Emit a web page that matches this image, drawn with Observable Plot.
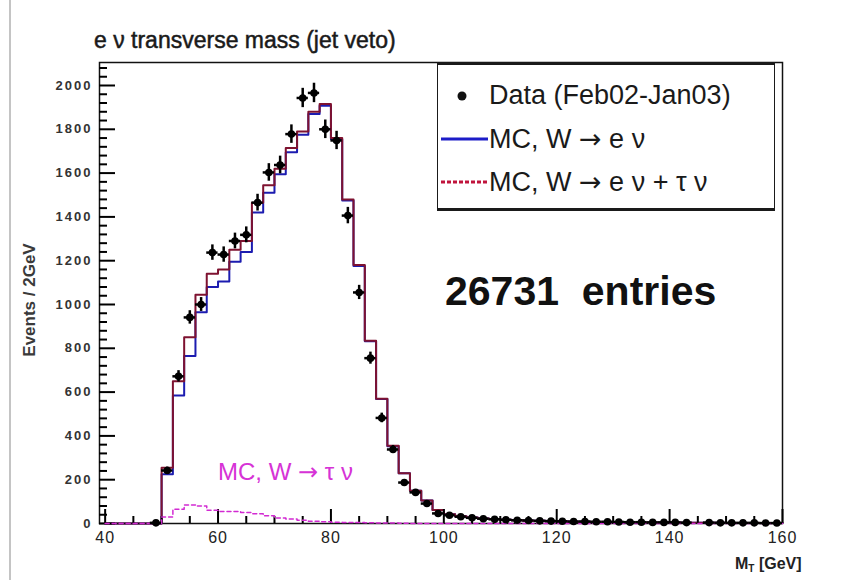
<!DOCTYPE html>
<html>
<head>
<meta charset="utf-8">
<script src="https://cdn.jsdelivr.net/npm/d3@7"></script>
<script src="https://cdn.jsdelivr.net/npm/@observablehq/plot@0.6"></script>
<style>
  body { margin: 0; background: #fff; }
  #wrap { position: relative; width: 859px; height: 580px; overflow: hidden;
          font-family: "Liberation Sans", Arial, sans-serif; color: #111; background: #fff; }
  #wrap > svg { position: absolute; left: 0; top: 0; }
  .abs { position: absolute; white-space: pre; line-height: 1; }
  .arr { font-family: "DejaVu Sans", sans-serif; }
  #edge { position: absolute; left: 9px; top: 0; width: 2px; height: 580px; background: #c4c4c4; }
  #title { left: 94px; top: 29px; font-size: 23px; color: #1a1a1a; -webkit-text-stroke: 0.5px #1a1a1a; }
  #legend { position: absolute; left: 437px; top: 62px; width: 336px; height: 143px;
            background: #fff; border: 1.5px solid #1a1a1a; border-top-width: 3px; border-bottom-width: 3px; }
  .leg { font-size: 27px; color: #1a1a1a; }
  #entries { left: 445px; top: 271px; font-size: 41px; font-weight: bold; color: #111; }
  #tau { left: 218px; top: 460px; font-size: 24px; color: #d633d6; }
  #ylab { left: 29px; top: 300px; transform: translate(-50%, -50%) rotate(-90deg);
          font-size: 17px; font-weight: bold; color: #3a3a3a; }
  #xlab { left: 735px; top: 556px; font-size: 16px; font-weight: bold; color: #222; }
  #xlab sub { font-size: 10px; vertical-align: -3px; }
  g[aria-label="y-axis tick label"] text { letter-spacing: 2px; }
  g[aria-label="x-axis tick label"] text { letter-spacing: 1px; }
</style>
</head>
<body>
<div id="wrap">
  <div id="edge"></div>
</div>
<script>
// 2 GeV bins of the transverse mass, 40–160 GeV
const binEdges = [40,42,44,46,48,50,52,54,56,58,60,62,64,66,68,70,72,74,76,78,80,
                  82,84,86,88,90,92,94,96,98,100,102,104,106,108,110,112,114,116,118,120,
                  122,124,126,128,130,132,134,136,138,140,142,144,146,148,150,152,154,156,158,160];

// Data (Feb02–Jan03), events per bin
const dataCounts = [0,0,0,0,3, 242,672,941,1000,1237, 1228,1290,1318,1465,1603,
                    1637,1778,1943,1966,1800, 1749,1406,1055,755,482, 338,187,142,91,46,
                    38,31,26,22,19, 17,15,14,12,11, 10,9,9,8,8, 7,6,6,5,5,
                    5,4,0,4,3, 3,3,3,2,2];

// MC, W -> e nu + tau nu
const mcTotal = [0,0,0,0,0, 255,650,850,1045,1140, 1160,1250,1290,1465,1545,
                 1620,1715,1790,1880,1915, 1760,1480,1180,835,570, 355,230,150,105,62,
                 42,33,27,23,20, 17,15,13,12,10, 9,8,8,7,6, 6,5,5,4,4,
                 4,3,3,3,3, 2,2,2,2,2];

// MC, W -> e nu
const mcENu = [0,0,0,0,0, 225,585,765,965,1080, 1105,1195,1240,1420,1510,
               1595,1695,1775,1870,1907, 1754,1475,1176,832,568, 353,229,150,105,62,
               42,33,27,23,20, 17,15,13,12,10, 9,8,8,7,6, 6,5,5,4,4,
               4,3,3,3,3, 2,2,2,2,2];

// MC, W -> tau nu
const mcTauNu = [0,0,0,0,0, 30,65,85,80,60, 55,55,50,45,35,
                 25,20,15,10,8, 6,5,4,3,2, 2,1,0,0,0,
                 0,0,0,0,0, 0,0,0,0,0, 0,0,0,0,0, 0,0,0,0,0,
                 0,0,0,0,0, 0,0,0,0,0];

const yTickValues = [0,200,400,600,800,1000,1200,1400,1600,1800,2000];
const xTickValues = [40,60,80,100,120,140,160];
const xDomain = [39, 160];
const yDomain = [0, 2105];

const W = 859, H = 580, mL = 99, mR = 77, mT = 62, mB = 57;
// tick lengths in pixels, converted to data units along each axis
const xPerPx = (xDomain[1] - xDomain[0]) / (W - mL - mR);
const yPerPx = (yDomain[1] - yDomain[0]) / (H - mT - mB);

const yMinor = d3.range(0, 2101, 40).filter(v => v % 200 !== 0);
const xMinor = d3.range(40, 161, 5).filter(v => v % 20 !== 0);

const bins = dataCounts.map((v, i) => ({
  lo: binEdges[i], hi: binEdges[i + 1], mid: (binEdges[i] + binEdges[i + 1]) / 2,
  data: v, total: mcTotal[i], enu: mcENu[i], tau: mcTauNu[i]
}));
const points = bins.filter(b => b.data > 0);
const outline = key => bins.flatMap(b => [{x: b.lo, y: b[key]}, {x: b.hi, y: b[key]}]);

const yTicks = (vals, len) => Plot.ruleY(vals, {y: d => d, x1: () => xDomain[0], x2: () => xDomain[0] + len * xPerPx,
                                                 stroke: "#000", strokeWidth: 2});
const xTicks = (vals, len) => Plot.ruleX(vals, {x: d => d, y1: () => yDomain[0], y2: () => yDomain[0] + len * yPerPx,
                                                 stroke: "#000", strokeWidth: 2});

const chart = Plot.plot({
  width: W, height: H,
  marginLeft: mL, marginRight: mR, marginTop: mT, marginBottom: mB,
  x: {domain: xDomain},
  y: {domain: yDomain},
  style: {background: "transparent", fontFamily: "Liberation Sans, Arial, sans-serif", color: "#222"},
  marks: [
    Plot.line(outline("enu"), {x: "x", y: "y", stroke: "#1c1cb0", strokeWidth: 2}),
    Plot.line(outline("total"), {x: "x", y: "y", stroke: "#7e1230", strokeWidth: 2}),
    Plot.frame({stroke: "#111", strokeWidth: 1.5}),
    yTicks(yTickValues, 16),
    yTicks(yMinor, 8),
    xTicks(xTickValues, 14),
    xTicks(xMinor, 7),
    Plot.line(outline("tau"), {x: "x", y: "y", stroke: "#d22ad2", strokeWidth: 1.5, strokeDasharray: "4,3"}),
    Plot.ruleX(points, {x: "mid", y1: d => d.data - Math.sqrt(d.data), y2: d => d.data + Math.sqrt(d.data),
                        stroke: "#000", strokeWidth: 2.5}),
    Plot.ruleY(points, {y: "data", x1: "lo", x2: "hi", stroke: "#000", strokeWidth: 2.5}),
    Plot.dot(points, {x: "mid", y: "data", r: 3.8, fill: "#000"}),
    Plot.axisY(yTickValues, {tickSize: 0, tickPadding: 7, label: null, tickFormat: d3.format("d"),
                             fontSize: 13, fontWeight: "bold", fill: "#333"}),
    Plot.axisX(xTickValues, {tickSize: 0, tickPadding: 8, label: null, tickFormat: d3.format("d"),
                             fontSize: 16, fill: "#222"})
  ]
});

const wrap = document.getElementById("wrap");
wrap.appendChild(chart);

function addText(id, cls, html) {
  const d = document.createElement("div");
  d.id = id; d.className = cls; d.innerHTML = html;
  wrap.appendChild(d);
  return d;
}

const arrow = '<span class="arr">\u2192</span>';
addText("title", "abs", "e \u03bd transverse mass (jet veto)");
addText("ylab", "abs", "Events / 2GeV");
addText("xlab", "abs", "M<sub>T</sub> [GeV]");
addText("entries", "abs", "26731  entries");
addText("tau", "abs", `MC, W ${arrow} \u03c4 \u03bd`);

// legend
const legend = document.createElement("div");
legend.id = "legend";
wrap.appendChild(legend);
const legendEntries = [
  {label: "Data (Feb02-Jan03)", kind: "dot"},
  {label: `MC, W ${arrow} e \u03bd`, kind: "line", color: "#1c1cc8", dash: null},
  {label: `MC, W ${arrow} e \u03bd + \u03c4 \u03bd`, kind: "line", color: "#c0143c", dash: "4,2"}
];
const sw = d3.select(legend).append("svg")
  .attr("width", 60).attr("height", 140)
  .style("position", "absolute").style("left", "0px").style("top", "0px");
legendEntries.forEach((e, i) => {
  const cy = 31 + i * 43;
  if (e.kind === "dot") {
    sw.append("circle").attr("cx", 24).attr("cy", cy).attr("r", 4.5).attr("fill", "#111");
  } else {
    sw.append("line").attr("x1", 3).attr("x2", 50).attr("y1", cy).attr("y2", cy)
      .attr("stroke", e.color).attr("stroke-width", 3)
      .attr("stroke-dasharray", e.dash);
  }
  d3.select(legend).append("div")
    .attr("class", "abs leg")
    .style("left", "51px").style("top", (cy - 14) + "px")
    .html(e.label);
});
</script>
</body>
</html>
